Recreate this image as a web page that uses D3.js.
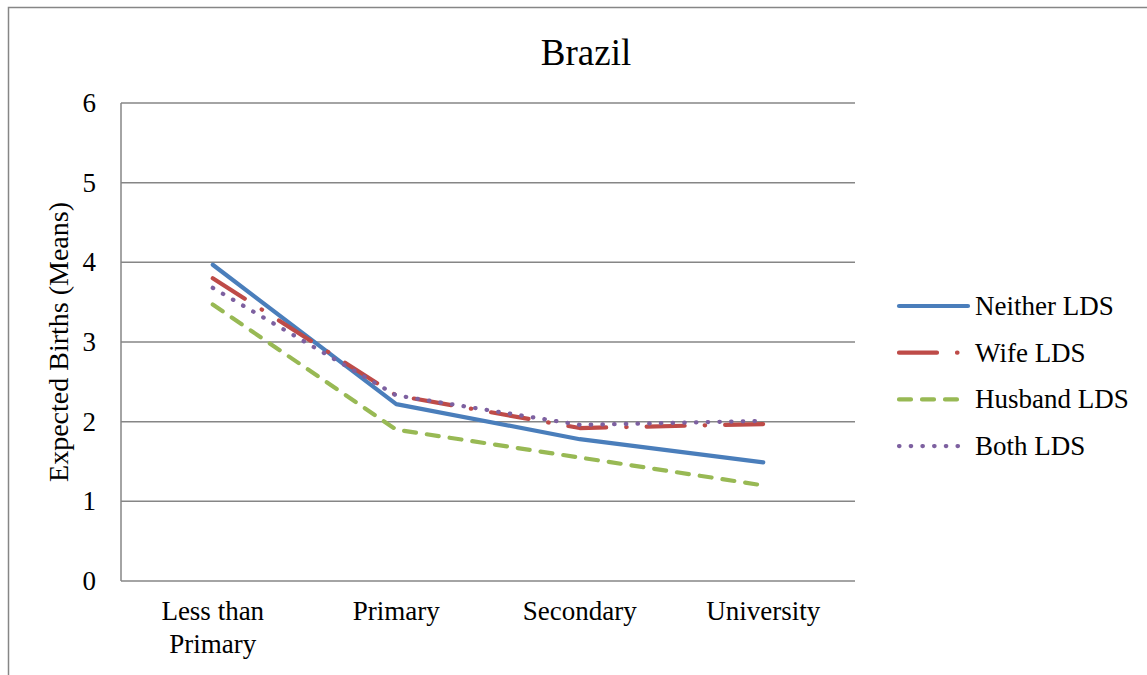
<!DOCTYPE html>
<html><head><meta charset="utf-8">
<script src="https://cdn.jsdelivr.net/npm/d3@7"></script>
<style>body{margin:0;background:#fff}svg{display:block}text{font-family:"Liberation Serif","Times New Roman",serif;fill:#000}</style>
</head><body><svg id="c" width="1147" height="675"></svg>
<script>
const categories = [["Less than","Primary"],["Primary"],["Secondary"],["University"]];
const seriesNames = ["Neither LDS","Wife LDS","Husband LDS","Both LDS"];
const neither = [3.97, 2.22, 1.78, 1.49];
const wife = [3.80, 2.33, 1.92, 1.97];
const husband = [3.47, 1.90, 1.55, 1.20];
const both = [3.68, 2.33, 1.96, 2.01];
const yTicks = [0,1,2,3,4,5,6];
const title = "Brazil";
const yTitle = "Expected Births (Means)";

const colors = ["#4a7ebb","#be4b48","#98b954","#7d60a0"];
const dashes = [null, "38 20 0.5 20", "12 11", "0.5 11.2"];
const seriesVals = [neither, wife, husband, both];

const svg = d3.select("#c");
svg.append("rect").attr("x",8.5).attr("y",7.5).attr("width",1200).attr("height",800)
  .attr("fill","none").attr("stroke","#868686").attr("stroke-width",1.5);

const L=121, R=855, T=103, B=581;
const x = d3.scaleBand().domain(d3.range(categories.length)).range([L,R]);
const y = d3.scaleLinear().domain([0,6]).range([B,T]);

// gridlines
svg.append("g").selectAll("line").data(yTicks.filter(d=>d>0)).join("line")
  .attr("x1",L).attr("x2",R).attr("y1",d=>y(d)).attr("y2",d=>y(d))
  .attr("stroke","#868686").attr("stroke-width",1.5);
// axes
svg.append("line").attr("x1",L).attr("x2",L).attr("y1",T).attr("y2",B).attr("stroke","#868686").attr("stroke-width",1.5);
svg.append("line").attr("x1",L).attr("x2",R).attr("y1",B).attr("y2",B).attr("stroke","#868686").attr("stroke-width",1.5);

// y tick labels
svg.append("g").selectAll("text").data(yTicks).join("text")
  .attr("x",96).attr("y",d=>y(d)+9).attr("text-anchor","end")
  .style("font-size","27px").text(d=>d);

// x labels
const xl = svg.append("g").selectAll("text").data(categories).join("text")
  .attr("text-anchor","middle").style("font-size","27px")
  .attr("transform",(d,i)=>`translate(${x(i)+x.bandwidth()/2},620)`);
xl.selectAll("tspan").data(d=>d).join("tspan").attr("x",0).attr("dy",(d,i)=>i?33:0).text(d=>d);

// title
svg.append("text").attr("x",586).attr("y",65).attr("text-anchor","middle").style("font-size","37px").text(title);
// y title
svg.append("text").attr("transform","translate(68,342) rotate(-90)").attr("text-anchor","middle")
  .style("font-size","28px").text(yTitle);

const line = d3.line().x((d,i)=>x(i)+x.bandwidth()/2).y(d=>y(d));
seriesVals.forEach((vals,k)=>{
  svg.append("path").attr("d",line(vals)).attr("fill","none")
    .attr("stroke",colors[k]).attr("stroke-width",4.2)
    .attr("stroke-linecap","round").attr("stroke-linejoin","round")
    .attr("stroke-dasharray",dashes[k]);
});

// legend
const lg = svg.append("g");
seriesNames.forEach((n,k)=>{
  const yy = 306 + k*46.7;
  lg.append("line").attr("x1",899).attr("x2",968).attr("y1",yy).attr("y2",yy)
    .attr("stroke",colors[k]).attr("stroke-width",4.2).attr("stroke-linecap","round")
    .attr("stroke-dasharray",dashes[k]);
  lg.append("text").attr("x",975).attr("y",yy+9).style("font-size","27px").text(n);
});
</script></body></html>
